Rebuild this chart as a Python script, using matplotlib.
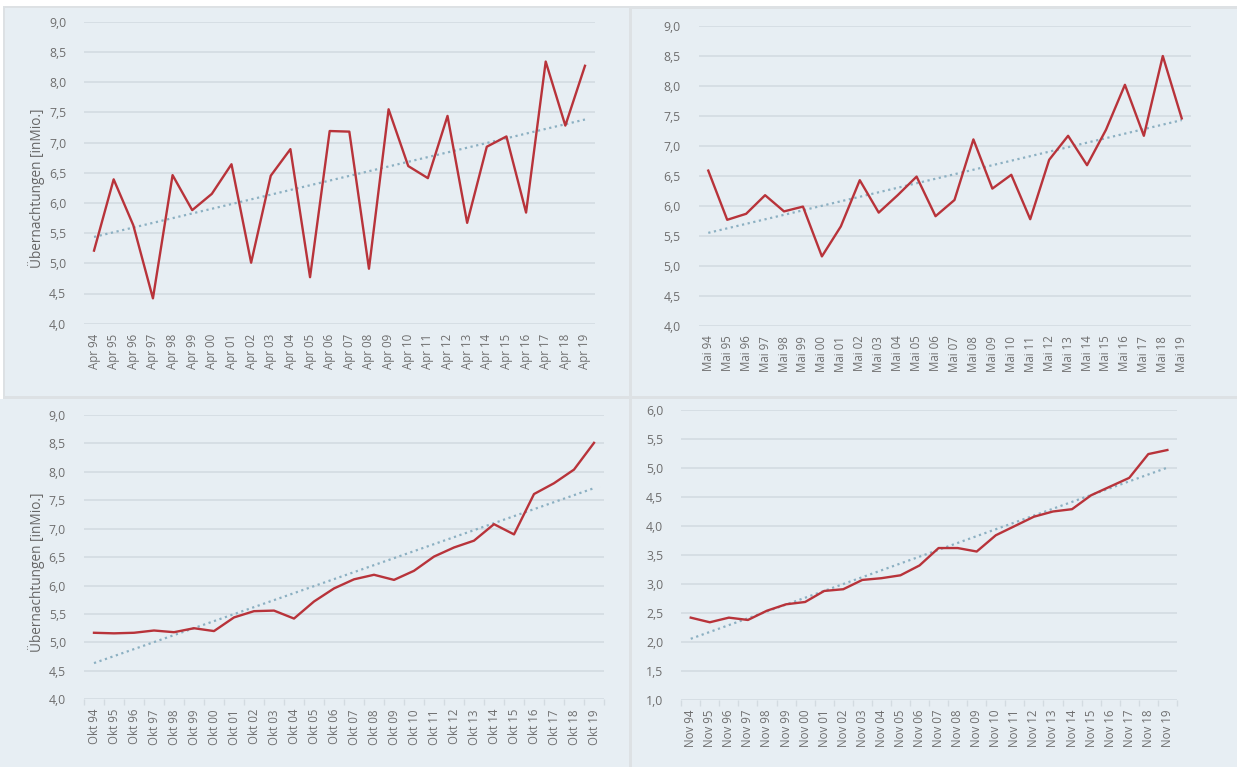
import numpy as np
import matplotlib
matplotlib.use("Agg")
import matplotlib.pyplot as plt
from matplotlib.patches import Rectangle
from matplotlib.ticker import FuncFormatter, MultipleLocator

# years shown on the x axis (1994 - 2019)
years = ['94', '95', '96', '97', '98', '99', '00', '01', '02', '03', '04', '05', '06',
         '07', '08', '09', '10', '11', '12', '13', '14', '15', '16', '17', '18', '19']

# overnight stays in millions
apr = [5.21, 6.39, 5.63, 4.42, 6.46, 5.88, 6.15, 6.64, 5.01, 6.45, 6.89, 4.77, 7.19,
       7.18, 4.91, 7.55, 6.61, 6.41, 7.44, 5.67, 6.93, 7.10, 5.84, 8.34, 7.28, 8.27]
mai = [6.59, 5.77, 5.87, 6.18, 5.91, 5.99, 5.16, 5.66, 6.43, 5.89, 6.18, 6.49, 5.83,
       6.10, 7.11, 6.29, 6.52, 5.78, 6.77, 7.17, 6.68, 7.27, 8.02, 7.17, 8.50, 7.46]
okt = [5.17, 5.16, 5.17, 5.21, 5.18, 5.25, 5.20, 5.44, 5.55, 5.56, 5.42, 5.72, 5.95,
       6.11, 6.19, 6.10, 6.26, 6.51, 6.67, 6.79, 7.08, 6.90, 7.61, 7.80, 8.04, 8.51]
nov = [2.42, 2.34, 2.42, 2.38, 2.54, 2.65, 2.69, 2.88, 2.91, 3.07, 3.10, 3.15, 3.32,
       3.62, 3.62, 3.56, 3.84, 4.00, 4.16, 4.25, 4.29, 4.53, 4.68, 4.83, 5.24, 5.31]

W, H = 1237, 767
BG = '#e7eef3'
GRID = '#d3dbe1'
RED = '#b8333a'
TREND = '#8cb0c2'
TXT = '#6e6e6e'
YLABEL = 'Übernachtungen [inMio.]'

plt.rcParams['font.family'] = ['Open Sans', 'DejaVu Sans']

fig = plt.figure(figsize=(W / 100, H / 100), dpi=100)
fig.patch.set_facecolor('white')


def px_rect(x0, y0, x1, y1):
    # pixel box (top-left origin) -> figure fraction [left, bottom, width, height]
    return [x0 / W, 1 - y1 / H, (x1 - x0) / W, (y1 - y0) / H]


# light grey frame with the four screenshot panels on top
l, b, w, h = px_rect(3, 6, 1237, 767)
fig.patches.append(Rectangle((l, b), w, h, transform=fig.transFigure,
                             facecolor='#dde1e4', edgecolor='none', zorder=-2))
for box in [(5, 8, 629, 396), (632, 9, 1237, 396), (0, 399, 629, 767), (632, 399, 1237, 767)]:
    l, b, w, h = px_rect(*box)
    fig.patches.append(Rectangle((l, b), w, h, transform=fig.transFigure,
                                 facecolor=BG, edgecolor='none', zorder=-1))

panels = [
    # values, month, axes box in pixels, y range, bottom ticks, ylabel position
    (apr, 'Apr', (84.2, 21.7, 594.8, 323.7), (4, 9), False, (37, 188)),
    (mai, 'Mai', (698.8, 26, 1191.2, 326), (4, 9), False, None),
    (okt, 'Okt', (84, 415, 604, 699.3), (4, 9), True, (37, 572)),
    (nov, 'Nov', (681.2, 410, 1176.9, 700), (1, 6), True, None),
]

for vals, month, box, (ymin, ymax), bottom_ticks, ylab in panels:
    ax = fig.add_axes(px_rect(*box))
    ax.set_facecolor('none')
    x = np.arange(len(years))
    vals = np.array(vals)

    # linear trend line, as in the spreadsheet chart
    k, d = np.polyfit(x, vals, 1)
    ax.plot(x, k * x + d, color=TREND, linewidth=1.6, linestyle=(0, (1, 1.6)), zorder=2)
    ax.plot(x, vals, color=RED, linewidth=1.7, zorder=3)

    ax.set_xlim(-0.5, len(years) - 0.5)
    ax.set_ylim(ymin, ymax)
    ax.yaxis.set_major_locator(MultipleLocator(0.5))
    ax.yaxis.set_major_formatter(FuncFormatter(lambda v, p: f"{v:.1f}".replace('.', ',')))
    ax.grid(True, axis='y', color=GRID, linewidth=1.2)
    ax.set_axisbelow(True)
    for s in ax.spines.values():
        s.set_visible(False)

    ax.set_xticks(x)
    ax.set_xticklabels([f"{month} {y}" for y in years], rotation=90)
    ax.tick_params(axis='x', length=0, pad=7, labelsize=8.3, labelcolor=TXT)
    ax.tick_params(axis='y', length=0, pad=13, labelsize=8.8, labelcolor=TXT)

    if bottom_ticks:
        ax.set_xticks(np.arange(-0.5, len(years)), minor=True)
        ax.tick_params(axis='x', which='minor', length=4, color=GRID, width=1)

    if ylab is not None:
        fig.text(ylab[0] / W, 1 - ylab[1] / H, YLABEL, rotation=90, ha='center',
                 va='center', fontsize=9.8, color='#666666')

fig.savefig('out.png', dpi=100, facecolor=fig.get_facecolor())
